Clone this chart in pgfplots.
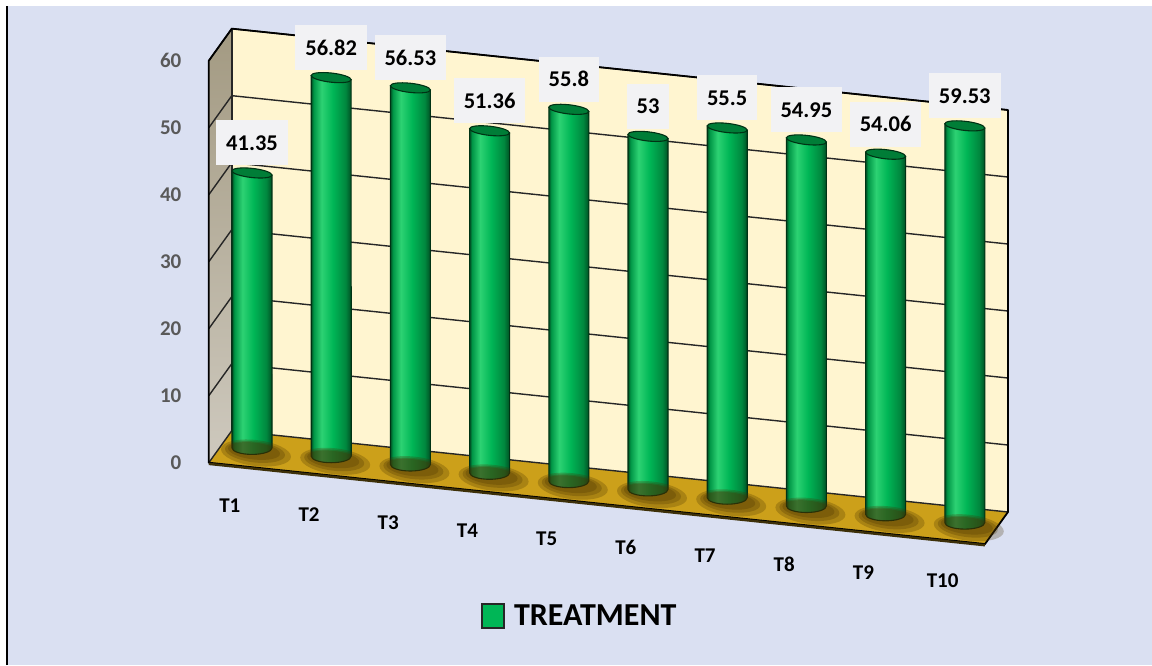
\documentclass[border=0pt]{standalone}
\usepackage{pgfplots}
\pgfplotsset{compat=1.18}
\usepackage{pgfplotstable}
\usepackage{fontspec}
\setmainfont{Carlito}
\usetikzlibrary{backgrounds,calc}

\definecolor{bgc}{RGB}{218,224,242}
\definecolor{wallc}{RGB}{255,245,208}
\definecolor{sidec}{RGB}{163,154,130}
\definecolor{sidec2}{RGB}{206,201,190}
\definecolor{floorc}{RGB}{204,160,26}
\definecolor{shadowc}{RGB}{70,48,0}
\definecolor{cdk}{RGB}{0,80,36}
\definecolor{cmd}{RGB}{0,150,70}
\definecolor{clt}{RGB}{45,210,115}
\definecolor{cmd2}{RGB}{0,182,86}
\definecolor{cmd3}{RGB}{0,135,62}
\definecolor{capc}{RGB}{0,125,55}
\definecolor{edgec}{RGB}{0,50,20}
\definecolor{tickc}{RGB}{89,89,89}
\definecolor{boxc}{RGB}{242,242,244}

% horizontal shading across a cylinder (the middle 50bp spans the shape)
\pgfdeclarehorizontalshading{cylbody}{100bp}{color(0bp)=(cdk); color(25bp)=(cdk);
  color(28bp)=(cmd); color(38bp)=(clt); color(52bp)=(cmd2); color(68bp)=(cmd3);
  color(75bp)=(cdk); color(100bp)=(cdk)}

% top face of a cylinder, aligned with the slanted category axis
\pgfdeclareplotmark{cyltop}{%
  \pgfpathellipse{\pgfpointorigin}{\pgfqpoint{20pt}{-2.1pt}}{\pgfqpoint{0pt}{4.6pt}}%
  \pgfusepathqfillstroke}
% soft shadow on the floor
\pgfdeclareplotmark{baseshadow}{%
  \pgfsetfillopacity{0.26}%
  \pgfpathellipse{\pgfqpoint{4pt}{-3pt}}{\pgfqpoint{35pt}{-3.7pt}}{\pgfqpoint{0pt}{13pt}}\pgfusepathqfill
  \pgfpathellipse{\pgfqpoint{3pt}{-2pt}}{\pgfqpoint{30pt}{-3.1pt}}{\pgfqpoint{0pt}{10.5pt}}\pgfusepathqfill
  \pgfpathellipse{\pgfqpoint{2pt}{-1pt}}{\pgfqpoint{26pt}{-2.7pt}}{\pgfqpoint{0pt}{8.5pt}}\pgfusepathqfill}

\pgfplotsset{cylside/.style={shade, shading=cylbody, draw=edgec, line width=1.1pt,
  line join=round, forget plot}}

\pgfplotstableread{
x y lab
1 41.35 41.35
2 56.82 56.82
3 56.53 56.53
4 51.36 51.36
5 55.8 55.8
6 53 53
7 55.5 55.5
8 54.95 54.95
9 54.06 54.06
10 59.53 59.53
}\treatment

\begin{document}
\begin{tikzpicture}
\begin{axis}[
  x={(79.2pt,-8.3pt)}, y={(0pt,6.7pt)},
  xmin=0.455, xmax=10.6, ymin=-8.7, ymax=64,
  clip=false,
  axis line style={draw=none}, tick style={draw=none},
  xtick={0.72,1.72,2.72,3.72,4.72,5.72,6.72,7.72,8.72,9.72},
  xticklabels={T1,T2,T3,T4,T5,T6,T7,T8,T9,T10},
  xticklabel style={anchor=center, text=black, font=\fontsize{21}{24}\selectfont\bfseries},
  ytick={-2.57,7.43,17.43,27.43,37.43,47.43,57.43},
  yticklabels={0,10,20,30,40,50,60},
  yticklabel style={anchor=east, xshift=-24pt, text=tickc, font=\fontsize{21}{24}\selectfont\bfseries},
  legend style={at={(axis cs:5.14,-19.67)}, anchor=center, draw=none, fill=none,
    font=\fontsize{32}{36}\selectfont\bfseries, inner sep=0pt},
]
% side wall
\fill[top color=sidec, bottom color=sidec2] (axis cs:0.455,-2.57) -- (axis cs:0.745,2.57)
  -- (axis cs:0.745,62.57) -- (axis cs:0.455,57.43) -- cycle;
% back wall
\fill[wallc] (axis cs:0.745,2.57) -- (axis cs:10.545,2.57) -- (axis cs:10.545,62.57)
  -- (axis cs:0.745,62.57) -- cycle;
% floor
\fill[floorc] (axis cs:0.455,-2.57) -- (axis cs:0.745,2.57) -- (axis cs:10.545,2.57)
  -- (axis cs:10.255,-2.57) -- cycle;
% gridlines
\pgfplotsinvokeforeach{0,10,20,30,40,50,60}{
  \draw[black!85, line width=1.4pt] (axis cs:0.455,{#1-2.57}) -- (axis cs:0.745,{#1+2.57})
    -- (axis cs:10.545,{#1+2.57});
}
\draw[black!85, line width=1.4pt] (axis cs:0.745,2.57) -- (axis cs:0.745,62.57);
\draw[black, line width=1.8pt, line join=round] (axis cs:0.455,-2.57) -- (axis cs:0.455,57.43)
  -- (axis cs:0.745,62.57) -- (axis cs:10.545,62.57) -- (axis cs:10.545,2.57)
  -- (axis cs:10.255,-2.57) -- cycle;
\draw[black!70!floorc, line width=2.4pt] (axis cs:0.455,-2.75) -- (axis cs:10.255,-2.75);

% shadows at the cylinder feet
\addplot[only marks, mark=baseshadow, fill=shadowc, draw=none, forget plot]
  table[x=x, y expr=0] {\treatment};
% cylinder bodies: one shaded outline per treatment, from the table rows,
% closed at the foot by a half ellipse
\pgfplotsforeachungrouped \r in {0,...,9}{%
  \pgfplotstablegetelem{\r}{x}\of\treatment \let\cx\pgfplotsretval
  \pgfplotstablegetelem{\r}{y}\of\treatment \let\cy\pgfplotsretval
  \pgfmathsetmacro\xl{\cx-0.2525}%
  \pgfmathsetmacro\xr{\cx+0.2525}%
  \edef\next{\noexpand\addplot[cylside] coordinates {(\xl,\cy) (\xl,0)}
    arc[start angle=180, end angle=360, x radius=20pt, y radius=6.5pt]
    -- (axis cs:\xr,\cy) -- cycle;}%
  \next
}
% top faces with value labels
\addplot[only marks, mark=cyltop, mark options={fill=capc, draw=edgec, line width=1.1pt},
  nodes near coords, point meta=explicit symbolic,
  every node near coord/.append style={anchor=south, yshift=7pt, fill=boxc,
    inner xsep=10pt, inner ysep=15pt, text height=15pt, text depth=0pt, text=black,
    font=\fontsize{22.5}{26}\selectfont\bfseries},
  forget plot]
  table[x=x, y=y, meta=lab] {\treatment};

\addlegendimage{legend image code/.code={
  \path[draw=none, fill=none] (0pt,0pt) -- (30pt,0pt);
  \draw[fill=cmd2, draw=black!85, line width=1.6pt] (0pt,-12pt) rectangle (22pt,12pt);}}
\addlegendentry{TREATMENT}

\coordinate (O) at (axis cs:0,0);
\end{axis}
\begin{scope}[on background layer]
  \fill[white] ($(O)+(-172.8pt,-223.3pt)$) rectangle +(1152pt,665pt);
  \fill[bgc] ($(O)+(-164.8pt,-223.3pt)$) rectangle +(1144pt,659pt);
  \draw[black, line width=2.2pt] ($(O)+(-165.8pt,-223.3pt)$) -- +(0pt,659pt);
\end{scope}
\pgfresetboundingbox
\path ($(O)+(-172.8pt,-223.3pt)$) rectangle +(1152pt,665pt);
\end{tikzpicture}
\end{document}
